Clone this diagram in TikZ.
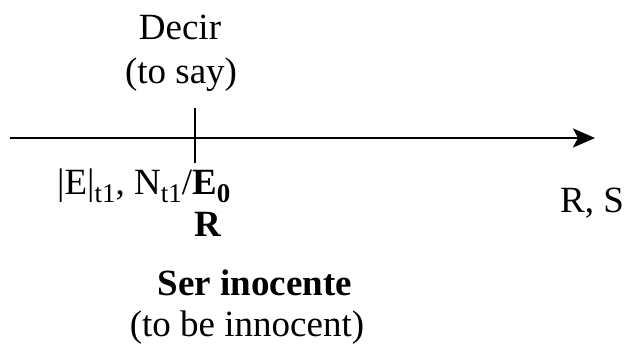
\documentclass[tikz,border=0pt]{standalone}
\usepackage{fontspec}
\setmainfont{Liberation Serif}
\usetikzlibrary{arrows.meta}
\newcommand{\sbs}[1]{\raisebox{-0.22em}{\fontsize{27}{27}\selectfont #1}}
\begin{document}
\begin{tikzpicture}[x=1pt,y=-1pt,
  every node/.style={inner sep=0pt, font=\fontsize{37}{44}\selectfont},
  lbl/.style={anchor=base},
  axis/.style={line width=2.5pt},
  tickline/.style={line width=2.5pt}]
\useasboundingbox (0,0) rectangle (628,345);
\coordinate (start) at (10,138);
\coordinate (end) at (595,138);
\draw[axis, -{Stealth[length=22pt,width=19pt,inset=5pt]}] (start) -- (end);
\coordinate (ttop) at (195,108);
\coordinate (tbot) at (195,163);
\draw[tickline] (ttop) -- (tbot);
\node[lbl] (decir) at (180,40) {Decir};
\node[lbl] (tosay) at (181,83) {(to say)};
\node[anchor=base west] (e) at (57,194) {|E|\sbs{t1}, N\sbs{t1}/\textbf{E\sbs{0}}};
\node[lbl] (r) at (208,236) {\textbf{R}};
\node[lbl] (rs) at (592,212) {R, S};
\node[lbl] (ser) at (255,295) {\textbf{Ser inocente}};
\node[lbl] (tobe) at (247,336) {(to be innocent)};
\end{tikzpicture}
\end{document}
